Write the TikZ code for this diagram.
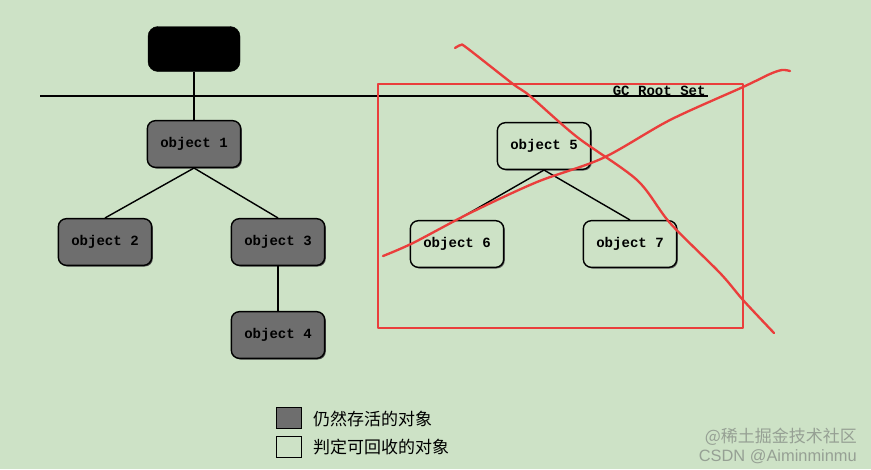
\documentclass[tikz,border=0pt]{standalone}
\usepackage{fontspec}
\setmainfont{Liberation Sans}
\setmonofont{Liberation Mono}
\newfontfamily\cjk{Noto Sans CJK SC}
\usetikzlibrary{shadows}
\definecolor{bg}{RGB}{205,226,198}
\definecolor{live}{RGB}{110,110,110}
\definecolor{mark}{RGB}{234,62,60}
\definecolor{wm}{RGB}{150,160,148}
\begin{document}
\begin{tikzpicture}[x=0.03cm,y=-0.03cm,
  obj/.style={rectangle, rounded corners=0.24cm, draw=black, line width=1.2pt,
    minimum width=2.8cm, minimum height=1.4cm, inner sep=0pt,
    font=\ttfamily\bfseries\fontsize{12}{14}\selectfont},
  liveobj/.style={obj, fill=live,
    drop shadow={shadow xshift=1pt, shadow yshift=-1pt, fill=black!70, opacity=1}},
  deadobj/.style={obj, fill=bg,
    drop shadow={shadow xshift=1pt, shadow yshift=-1pt, fill=black!60, opacity=1}},
  rootobj/.style={rectangle, rounded corners=0.3cm, draw=black, fill=black,
    minimum width=2.76cm, minimum height=1.35cm, inner sep=0pt},
  link/.style={line width=1.2pt},
  cross/.style={draw=mark, line width=2pt, line cap=round, line join=round},
  legbox/.style={rectangle, draw=black, line width=0.9pt, minimum width=0.75cm,
    minimum height=0.63cm, inner sep=0pt},
  legtext/.style={anchor=west, inner sep=0pt, font=\cjk\fontsize{14.5}{16}\selectfont},
  wmark/.style={text=wm, inner sep=0pt, anchor=east}]
\fill[bg] (0,0) rectangle (871,469);
\useasboundingbox (0,0) rectangle (871,469);

% GC root line
\coordinate (gl) at (40,96);
\coordinate (gr) at (708,96);
\draw[line width=1.2pt] (gl) -- (gr);
\node[anchor=south east, inner sep=1pt, font=\ttfamily\bfseries\fontsize{12}{14}\selectfont] (gc) at (707,97) {GC Root Set};

% live objects
\node[rootobj] (root) at (194,49) {};
\node[liveobj] (o1) at (194,144) {object 1};
\node[liveobj] (o2) at (105,242) {object 2};
\node[liveobj] (o3) at (278,242) {object 3};
\node[liveobj] (o4) at (278,335) {object 4};
\draw[link] (root) -- (o1);
\draw[link] (o1.south) -- (o2.north);
\draw[link] (o1.south) -- (o3.north);
\draw[link] (o3) -- (o4);

% unreachable objects
\node[deadobj] (o5) at (544,146) {object 5};
\node[deadobj] (o6) at (457,244) {object 6};
\node[deadobj] (o7) at (630,244) {object 7};
\draw[link] (o5.south) -- (o6.north);
\draw[link] (o5.south) -- (o7.north);

% red annotation
\draw[cross] (378,84) rectangle (743,328);
\draw[cross] plot[smooth, tension=0.5] coordinates {(455,48) (461,45) (467,48) (513,84) (530,96) (577,137) (637,180) (670,223) (720,273) (743,300) (774,333)};
\draw[cross] plot[smooth, tension=0.5] coordinates {(383,256) (413,243) (470,213) (537,182) (603,158) (670,120) (743,87) (770,74) (782,70) (790,71)};

% legend
\node[legbox, fill=live] (k1) at (289,418) {};
\node[legbox, fill=bg] (k2) at (289,447) {};
\node[legtext] (t1) at (313,419) {仍然存活的对象};
\node[legtext] (t2) at (313,447) {判定可回收的对象};

% watermark
\node[wmark, font=\cjk\fontsize{14.5}{16}\selectfont] (w1) at (857,437) {@稀土掘金技术社区};
\node[wmark, font=\fontsize{14}{16}\selectfont] (w2) at (857,457) {CSDN @Aiminminmu};
\end{tikzpicture}
\end{document}
